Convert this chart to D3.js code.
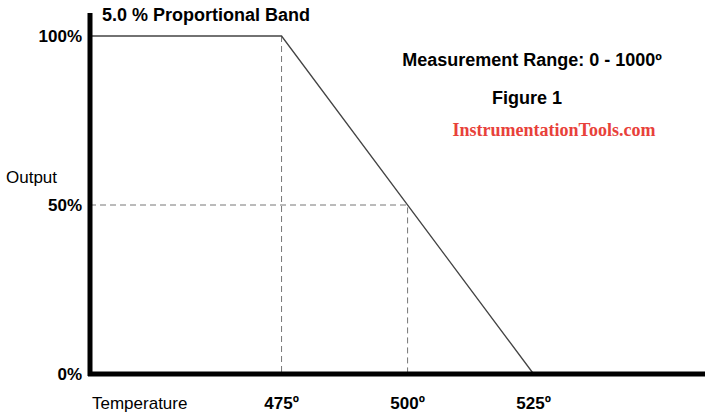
<!DOCTYPE html>
<html><head><meta charset="utf-8">
<script src="https://cdn.jsdelivr.net/npm/d3@7"></script>
<style>body{margin:0;background:#fff}text{font-family:Arial,"Liberation Sans",sans-serif}</style>
</head><body><svg width="720" height="418"></svg>
<script>
const temps=[437,475,525];
const outputs=[100,100,0];
const xTicks=[475,500,525];
const xTickLabels=["475º","500º","525º"];
const yTicks=[0,50,100];
const yTickLabels=["0%","50%","100%"];
const svg=d3.select("svg");
const x=d3.scaleLinear().domain([437,559]).range([90,705]);
const y=d3.scaleLinear().domain([0,100]).range([374,36]);
svg.append("path").attr("d",`M${x(475)},${y(100)}V${y(0)}`).attr("stroke","#777").attr("stroke-dasharray","6,4").attr("fill","none");
svg.append("path").attr("d",`M${x(437)},${y(50)}H${x(500)}V${y(0)}`).attr("stroke","#777").attr("stroke-dasharray","6,4").attr("fill","none");
svg.append("path").datum(temps.map((t,i)=>[t,outputs[i]])).attr("d",d3.line().x(d=>x(d[0])).y(d=>y(d[1]))).attr("stroke","#444").attr("stroke-width",1.3).attr("fill","none");
svg.append("line").attr("x1",x(437)).attr("x2",x(437)).attr("y1",13).attr("y2",y(0)+2).attr("stroke","#000").attr("stroke-width",5);
svg.append("line").attr("x1",x(437)-2).attr("x2",705).attr("y1",y(0)).attr("y2",y(0)).attr("stroke","#000").attr("stroke-width",5);
yTicks.forEach((v,i)=>svg.append("text").attr("x",82).attr("y",y(v)+6).attr("text-anchor","end").attr("font-size",17).attr("font-weight","bold").text(yTickLabels[i]));
xTicks.forEach((v,i)=>svg.append("text").attr("x",x(v)).attr("y",409).attr("text-anchor","middle").attr("font-size",17).attr("font-weight","bold").text(xTickLabels[i]));
svg.append("text").attr("x",92).attr("y",409).attr("font-size",17).text("Temperature");
svg.append("text").attr("x",6).attr("y",183).attr("font-size",17).text("Output");
svg.append("text").attr("x",102).attr("y",21).attr("font-size",18).attr("font-weight","bold").text("5.0 % Proportional Band");
svg.append("text").attr("x",532).attr("y",66).attr("text-anchor","middle").attr("font-size",18).attr("font-weight","bold").text("Measurement Range: 0 - 1000º");
svg.append("text").attr("x",527).attr("y",104).attr("text-anchor","middle").attr("font-size",18).attr("font-weight","bold").text("Figure 1");
svg.append("text").attr("x",554).attr("y",136).attr("text-anchor","middle").attr("font-size",18).attr("font-weight","bold").attr("fill","#e8413a").style("font-family","'Liberation Serif',serif").text("InstrumentationTools.com");
</script></body></html>
